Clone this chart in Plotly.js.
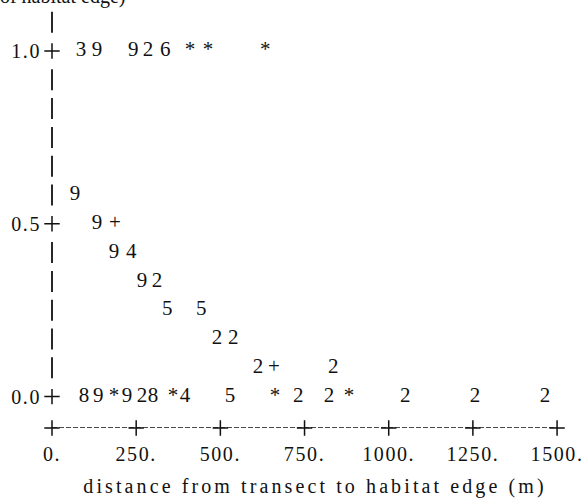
<!DOCTYPE html>
<html><head><meta charset="utf-8">
<script src="https://cdn.plot.ly/plotly-3.0.1.min.js"></script>
<style>
html,body{margin:0;padding:0;background:#fff;}
#chart{width:583px;height:499px;}
.xtitle{letter-spacing:3.1px;}
.xtick text,.ytick text{letter-spacing:1.6px;}
</style></head><body><div id="chart"></div>
<script>
// ---- data ----
// plotting symbol of each point
const pointSymbol = ['3','9','9','2','6','*','*','*',
  '9',
  '9','+',
  '9','4',
  '9','2',
  '5','5',
  '2','2',
  '2','+','2',
  '8','9','*','9','2','8','*','4','5','*','2','2','*','2','2','2'];
// distance from transect to habitat edge (m)
const pointDistance = [86,134,241,285,336,410,463,633,
  68,
  134,187,
  184,235,
  267,312,
  342,443,
  490,538,
  612,659,835,
  95,137,184,223,267,300,359,395,529,662,731,823,882,1049,1256,1464];
// proportion (y value)
const pointValue = [1,1,1,1,1,1,1,1,
  0.583,
  0.5,0.5,
  0.417,0.417,
  0.333,0.333,
  0.25,0.25,
  0.167,0.167,
  0.083,0.083,0.083,
  0,0,0,0,0,0,0,0,0,0,0,0,0,0,0,0];
const xTickValues = [0,250,500,750,1000,1250,1500];
const xTickLabels = ['0.','250.','500.','750.','1000.','1250.','1500.'];
const yTickValues = [0,0.5,1.0];
const yTickLabels = ['0.0','0.5','1.0'];
const xTitle = 'distance from transect to habitat edge (m)';
const yTitleFragment = 'proportion of transect within distance of habitat edge)';

// ---- build ----
const ink = '#111111';
const font = 'Liberation Serif, Times New Roman, serif';
const rowStep = 1/12;   // one printer line

const symbols = [...new Set(pointSymbol)];
const traces = symbols.map(s => {
  const xs = [], ys = [];
  pointSymbol.forEach((p,i) => { if (p === s) { xs.push(pointDistance[i]); ys.push(pointValue[i]); } });
  return {type:'scatter', mode:'text', x:xs, y:ys, text:xs.map(()=>s),
    textposition:'middle center', textfont:{family:font, size:21, color:ink},
    hoverinfo:'skip', showlegend:false, cliponaxis:false, name:s};
});

// vertical axis drawn as printer bars, "+" at the ticks
const barY = [];
for (let r = -1; r <= 12; r++) {
  const y = 1 - r*rowStep;
  if (!yTickValues.some(v => Math.abs(v - y) < 1e-6)) barY.push(y);
}
traces.push({type:'scatter', mode:'markers', x:barY.map(()=>0), y:barY,
  marker:{symbol:'line-ns', size:15, line:{width:1.8, color:ink}},
  hoverinfo:'skip', showlegend:false, cliponaxis:false});
traces.push({type:'scatter', mode:'markers', x:yTickValues.map(()=>0), y:yTickValues,
  marker:{symbol:'cross-thin', size:11, line:{width:1.5, color:ink}},
  hoverinfo:'skip', showlegend:false, cliponaxis:false});
const axisY = -1.09*rowStep;
traces.push({type:'scatter', mode:'markers', x:xTickValues, y:xTickValues.map(()=>axisY),
  marker:{symbol:'cross-thin', size:11, line:{width:1.5, color:ink}},
  hoverinfo:'skip', showlegend:false, cliponaxis:false});

const layout = {
  width:583, height:499,
  margin:{l:47, r:0, t:0, b:71},
  paper_bgcolor:'#fff', plot_bgcolor:'#fff',
  font:{family:font, color:ink, size:20},
  showlegend:false,
  xaxis:{range:[-14.85,1577], showgrid:false, zeroline:false, showline:false,
    tickmode:'array', tickvals:xTickValues, ticktext:xTickLabels, ticks:'',
    ticklabeloverflow:'allow',
    ticklabelstandoff:12, tickfont:{family:font, size:20, color:ink},
    title:{text:xTitle, font:{family:font, size:20, color:ink}, standoff:14}},
  yaxis:{range:[axisY, 1.1476], showgrid:false, zeroline:false, showline:false,
    tickmode:'array', tickvals:yTickValues, ticktext:yTickLabels, ticks:'',
    ticklabelstandoff:5, tickfont:{family:font, size:20, color:ink}},
  shapes:[{type:'line', xref:'x', yref:'y', x0:0, x1:1500, y0:axisY, y1:axisY,
    line:{color:ink, width:1.3, dash:'5px,2px'}}],
  annotations:[{xref:'paper', yref:'paper', x:(127-47)/536, y:1, xanchor:'right', yanchor:'bottom',
    yshift:-10, showarrow:false, text:yTitleFragment, font:{family:font, size:20, color:ink}}]
};
Plotly.newPlot('chart', traces, layout, {displayModeBar:false, staticPlot:true});
</script></body></html>
